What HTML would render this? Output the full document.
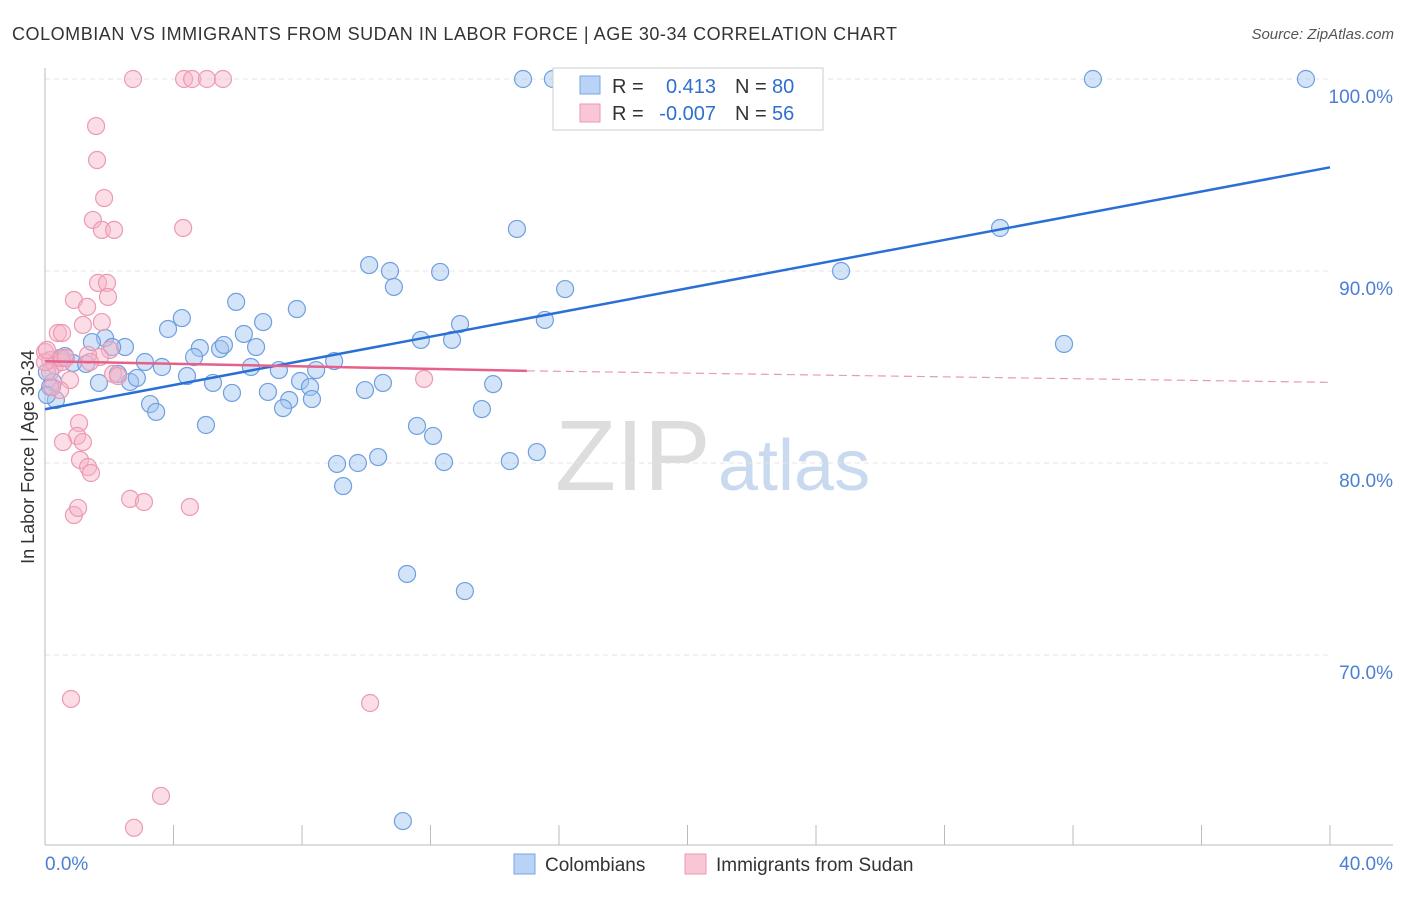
<!DOCTYPE html>
<html><head><meta charset="utf-8"><style>
body{margin:0;background:#fff;font-family:"Liberation Sans",sans-serif}
svg text{font-family:"Liberation Sans",sans-serif}
</style></head><body>
<svg id="c" width="1406" height="892">
<text x="12" y="40" font-size="18" fill="#333" textLength="885">COLOMBIAN VS IMMIGRANTS FROM SUDAN IN LABOR FORCE | AGE 30-34 CORRELATION CHART</text>
<text x="1394" y="39" font-size="15" fill="#555" text-anchor="end" font-style="italic">Source: ZipAtlas.com</text>
<text x="34" y="457" font-size="18" fill="#333" text-anchor="middle" transform="rotate(-90 34 457)">In Labor Force | Age 30-34</text>
<text x="555" y="490" font-size="100" fill="#ddd" font-family="Liberation Serif">ZIP</text>
<text x="718" y="490" font-size="72" fill="#c9d9ef">atlas</text>
<g id="grid"></g><g id="pts"></g><g id="lines"></g>
<g>
<rect x="553" y="68" width="270" height="62" fill="#fff" stroke="#ccc"/>
<rect x="580" y="76" width="20" height="18" fill="#b8d3f5" stroke="#7aa6e0"/>
<rect x="580" y="104" width="20" height="18" fill="#f9c6d5" stroke="#e99ab2"/>
<text x="612" y="93" font-size="20" fill="#333">R =</text>
<text x="716" y="93" font-size="20" fill="#2f6fcf" text-anchor="end">0.413</text>
<text x="735" y="93" font-size="20" fill="#333">N =</text>
<text x="772" y="93" font-size="20" fill="#2f6fcf">80</text>
<text x="612" y="120" font-size="20" fill="#333">R =</text>
<text x="716" y="120" font-size="20" fill="#2f6fcf" text-anchor="end">-0.007</text>
<text x="735" y="120" font-size="20" fill="#333">N =</text>
<text x="772" y="120" font-size="20" fill="#2f6fcf">56</text>
</g>
<g>
<rect x="514" y="854" width="21" height="20" fill="#b8d3f5" stroke="#7aa6e0"/>
<text x="545" y="871" font-size="19" fill="#333">Colombians</text>
<rect x="685" y="854" width="21" height="20" fill="#f9c6d5" stroke="#e99ab2"/>
<text x="716" y="871" font-size="19" fill="#333">Immigrants from Sudan</text>
</g>
</svg>
<script>
const yTicks=[100,90,80,70];
const yTickLabels=["100.0%","90.0%","80.0%","70.0%"];
const blueX=[14.88,15.81,32.62,39.25,23.50,14.69,29.73,24.78,10.09,10.74,10.86,12.30,16.19,5.95,7.84,4.26,3.83,6.79,6.19,1.87,1.46,2.49,2.09,4.82,5.45,5.57,6.57,11.70,12.67,12.92,15.56,31.72,4.64,3.11,3.64,6.41,7.28,8.44,9.0,0.87,1.28,0.47,0.62,4.42,5.23,7.94,8.25,10.52,9.96,13.95,1.68,2.65,2.86,2.27,0.25,0.16,5.82,6.94,7.60,8.31,3.27,3.46,7.41,13.60,5.01,11.58,12.08,9.09,9.74,10.37,12.42,14.47,15.31,9.28,11.27,13.07,11.14,0.34,0.06,0.06];
const blueY=[100,100,100,100,100,92.19,92.24,90.0,90.31,90.0,89.17,89.95,89.06,88.39,88.02,87.55,86.98,87.34,86.72,86.51,86.30,86.04,86.04,85.99,85.94,86.15,86.04,86.41,86.41,87.24,87.45,86.20,85.52,85.26,85.0,85.0,84.84,84.84,85.31,85.21,85.16,85.47,85.57,84.53,84.17,84.27,83.96,84.17,83.80,84.11,84.17,84.22,84.43,84.64,84.22,83.96,83.65,83.70,83.28,83.33,83.07,82.66,82.86,82.81,81.98,81.93,81.41,79.95,80.0,80.31,80.05,80.10,80.57,78.80,74.22,73.33,61.35,83.28,84.74,83.54];
const pinkX=[2.74,4.33,4.58,5.04,5.54,1.59,1.62,1.84,1.49,1.77,2.15,4.30,1.65,1.93,0.90,1.31,1.96,1.18,1.77,0.40,0.53,2.02,1.71,1.34,0,0.16,0.31,0.53,0.78,0.47,0.22,2.12,2.27,1.06,1.0,1.18,0.56,1.09,1.34,1.43,0.90,1.03,2.65,3.08,4.51,11.80,0.81,10.12,3.61,2.77,0.16,0,0.06,0.53,1.40,0.65];
const pinkY=[100,100,100,100,100,97.55,95.78,93.80,92.66,92.14,92.14,92.24,89.38,89.38,88.49,88.13,88.65,87.19,87.34,86.77,86.77,85.89,85.52,85.63,85.78,85.36,85.10,85.26,84.32,83.80,83.96,84.64,84.53,82.08,81.41,81.09,81.09,80.16,79.79,79.48,77.29,77.66,78.13,77.97,77.71,84.38,67.71,67.50,62.66,61.0,84.74,85.26,85.89,85.47,85.26,85.47];
const blueLine=[0,82.8,40,95.4];
const pinkSolid=[0,85.3,15,84.8];
const pinkDash=[15,84.8,40,84.2];
const NS="http://www.w3.org/2000/svg";
const X=v=>45+v/40*1285, Y=v=>79+(100-v)*19.2;
function mk(t,a,p){const e=document.createElementNS(NS,t);for(const k in a)e.setAttribute(k,a[k]);p.appendChild(e);return e;}
const g=document.getElementById('grid');
yTicks.forEach((t,i)=>{
 const l=mk('line',{x1:45,x2:1330,y1:Y(t),y2:Y(t),stroke:'#e4e4e4','stroke-dasharray':'5,4'},g);
 
 
 const tx=mk('text',{x:1393,y:Y(t)+24,'font-size':19,fill:'#4a7fd4','text-anchor':'end'},g);
 tx.textContent=yTickLabels[i];
 
 
});
const ax=mk('line',{x1:45,x2:45,y1:68,y2:845,stroke:'#bbb'},g);


const bx=mk('line',{x1:45,x2:1393,y1:845,y2:845,stroke:'#bbb'},g);


for(let i=1;i<=10;i++){const t=mk('line',{x1:X(i*4),x2:X(i*4),y1:825,y2:845,stroke:'#bbb'},g);
 
 }
[["0.0%",45,'start'],["40.0%",1393,'end']].forEach(d=>{const t=mk('text',{x:d[1],y:870,'font-size':19,fill:'#4a7fd4','text-anchor':d[2]},g);t.textContent=d[0];
 
 });
const p=document.getElementById('pts');
blueX.forEach((v,i)=>{const c=mk('circle',{cx:X(v),cy:Y(blueY[i]),r:8.5,fill:'rgba(160,196,240,0.45)',stroke:'#6f9fe0','stroke-width':1.2},p);
 
 });
pinkX.forEach((v,i)=>{const c=mk('circle',{cx:X(v),cy:Y(pinkY[i]),r:8.5,fill:'rgba(246,180,200,0.45)',stroke:'#ec9ab4','stroke-width':1.2},p);
 
 });
const L=document.getElementById('lines');
const b=mk('line',{x1:X(blueLine[0]),y1:Y(blueLine[1]),x2:X(blueLine[2]),y2:Y(blueLine[3]),stroke:'#2a6fd6','stroke-width':2.5},L);


const ps=mk('line',{x1:X(pinkSolid[0]),y1:Y(pinkSolid[1]),x2:X(pinkSolid[2]),y2:Y(pinkSolid[3]),stroke:'#e5608a','stroke-width':2.5},L);


const pd=mk('line',{x1:X(pinkDash[0]),y1:Y(pinkDash[1]),x2:X(pinkDash[2]),y2:Y(pinkDash[3]),stroke:'#e89ab2','stroke-width':1.2,'stroke-dasharray':'8,5'},L);


</script>
</body></html>
